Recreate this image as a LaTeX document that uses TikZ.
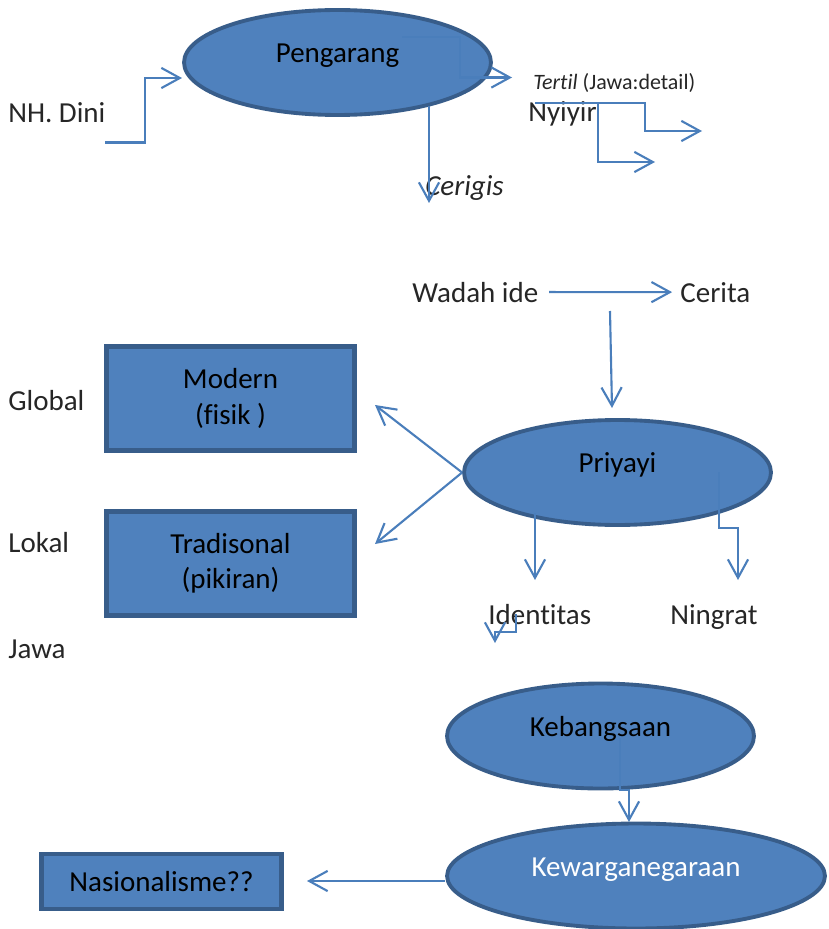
\documentclass[tikz,border=0pt]{standalone}
\usepackage{fontspec}
\setmainfont{Carlito}[Ligatures=NoCommon]
\usepackage{tikz}
\usetikzlibrary{shapes.geometric}
\usetikzlibrary{arrows.meta}
\usetikzlibrary{positioning}

\definecolor{shapefill}{HTML}{4F81BD}
\definecolor{shapeline}{HTML}{385D8A}
\definecolor{linkblue}{HTML}{4A7EBB}
\definecolor{labelgray}{HTML}{262626}

\tikzset{
	oval/.style={ellipse, draw=shapeline, fill=shapefill, line width=2.2pt, minimum width=6.14cm, minimum height=2.1cm, text height=8pt, text depth=8pt, font=\fontsize{16.5}{20}\selectfont},
	box/.style={rectangle, draw=shapeline, fill=shapefill, line width=2.6pt, align=center, minimum width=4.96cm, minimum height=2.08cm, font=\fontsize{16.5}{20}\selectfont},
	word/.style={inner sep=0pt, anchor=base west, text=labelgray, font=\fontsize{16.5}{20}\selectfont},
	link/.style={draw=linkblue, line width=1.2pt, -{Straight Barb[length=10.5pt,width=11.5pt]}}
}

\begin{document}
\begin{tikzpicture}[x=0.02cm, y=-0.02cm]
				\useasboundingbox (0,0) rectangle (828,929);
				
				\node[oval] (peng) at (337.5,62.5) {Pengarang};
				\node[oval] (priy) at (617.5,472.5) {Priyayi};
				\node[oval] (bangsa) at (600.5,736) {Kebangsaan};
				\node[oval, minimum width=7.56cm, text=white] (warga) at (636,876) {Kewarganegaraan};
				\node[box] (modern) at (230.5,398.5) {Modern\\(fisik )};
				\node[box] (tradisi) at (230.5,563.5) {Tradisonal\\(pikiran)};
				\node[box, minimum width=4.8cm, minimum height=1.1cm] (nasional) at (161.5,881.5) {Nasionalisme??};
				
				\node[word] (dini) at (8,123) {NH. Dini};
				\node[word, font=\fontsize{12.5}{15}\selectfont] (tertil) at (533,90) {\textit{Tertil} (Jawa:detail)};
				\node[word] (nyiyir) at (528,122) {Nyiyir};
				\node[word] (cerigis) at (425,195) {\textit{Cerigis}};
				\node[word] (wadah) at (412,302) {Wadah ide};
				\node[word] (cerita) at (680,302) {Cerita};
				\node[word] (global) at (8,410) {Global};
				\node[word] (lokal) at (8,552) {Lokal};
				\node[word] (jawa) at (8,658) {Jawa};
				\node[word] (identitas) at (488,624) {Identitas};
				\node[word] (ningrat) at (670,624) {Ningrat};
				
				\coordinate (dini out) at (105,142.5);
				\coordinate (peng in) at (182,78);
				\coordinate (peng mid) at (402,37);
				\coordinate (tertil in) at (512,77.5);
				\coordinate (peng foot) at (429,106);
				\coordinate (cerigis in) at (429,203);
				\coordinate (nyiyir top) at (535,103);
				\coordinate (nyiyir split) at (598,103);
				\coordinate (story out) at (610,311);
				\coordinate (priy top) at (612,408);
				\coordinate (modern tip) at (375,405);
				\coordinate (tradisi tip) at (375,544);
				\coordinate (priy foot) at (535,513);
				\coordinate (identitas tip) at (535,580);
				\coordinate (priy inner) at (719,472);
				\coordinate (ningrat tip) at (738,580);
				\coordinate (stray) at (516,614);
				\coordinate (stray tip) at (495,643);
				\coordinate (bangsa inner) at (620,738);
				\coordinate (warga top) at (629,822);
				\coordinate (warga left) at (445,881);
				\coordinate (nasional tip) at (307,881);
				
				\draw[link] (dini out) -- ++(40,0) |- (peng in);
				\draw[link] (peng mid) -- ++(58,0) |- (tertil in);
				\draw[link] (peng foot) -- (cerigis in);
				\draw[link] (nyiyir top) -- ++(110,0) -- ++(0,28) -- ++(57,0);
				\draw[link] (nyiyir split) -- ++(0,59) -- ++(57,0);
				\draw[link, shorten <=6pt, shorten >=4.5pt] (wadah.east) -- (cerita.west);
				\draw[link] (story out) -- (priy top);
				\draw[link] (priy.west) -- (modern tip);
				\draw[link] (priy.west) -- (tradisi tip);
				\draw[link] (priy foot) -- (identitas tip);
				\draw[link] (priy inner) -- ++(0,56) -| (ningrat tip);
				\draw[link] (stray) -- ++(0,18) -| (stray tip);
				\draw[link] (bangsa inner) -- ++(0,52) -| (warga top);
				\draw[link] (warga left) -- (nasional tip);
\end{tikzpicture}
\end{document}
